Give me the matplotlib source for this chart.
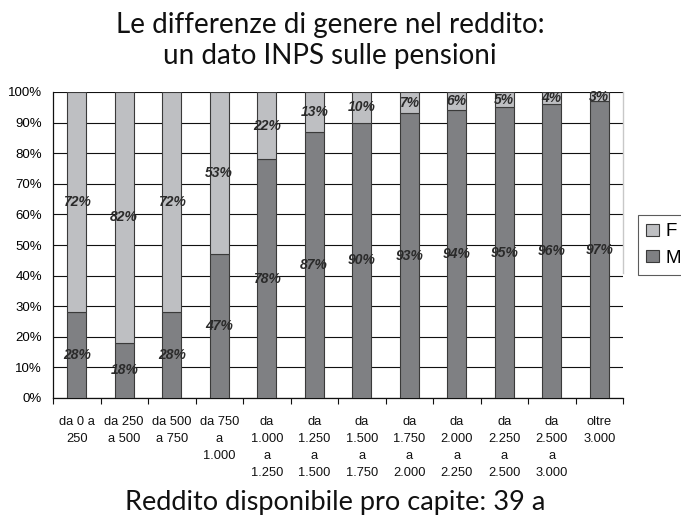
import matplotlib
matplotlib.use("Agg")
import matplotlib.pyplot as plt
from matplotlib.patches import Patch

# Income bands (monthly pension, euro)
categories = [
    "da 0 a\n250", "da 250\na 500", "da 500\na 750", "da 750\na\n1.000",
    "da\n1.000\na\n1.250", "da\n1.250\na\n1.500", "da\n1.500\na\n1.750",
    "da\n1.750\na\n2.000", "da\n2.000\na\n2.250", "da\n2.250\na\n2.500",
    "da\n2.500\na\n3.000", "oltre\n3.000",
]
male_pct = [28, 18, 28, 47, 78, 87, 90, 93, 94, 95, 96, 97]
female_pct = [72, 82, 72, 53, 22, 13, 10, 7, 6, 5, 4, 3]
y_ticks = [0, 10, 20, 30, 40, 50, 60, 70, 80, 90, 100]

col_f = "#bebfc2"
col_m = "#7f8083"
edge = "#3a3a3a"

fig = plt.figure(figsize=(6.81, 5.17), dpi=100)
ax = fig.add_axes([53 / 681, 1 - 398 / 517, 570 / 681, 306 / 517])

x = list(range(len(categories)))
w = 0.4
ax.bar(x, male_pct, width=w, color=col_m, edgecolor=edge, linewidth=0.8, zorder=3)
ax.bar(x, female_pct, width=w, bottom=male_pct, color=col_f, edgecolor=edge,
       linewidth=0.8, zorder=3)

lab_kw = dict(ha="center", va="center", fontsize=10, fontweight="bold",
              fontstyle="italic", color="#2a2a2a", family="Liberation Sans", zorder=4)
for xi, m, f in zip(x, male_pct, female_pct):
    ax.text(xi, m / 2, f"{m}%", **lab_kw)
    ax.text(xi, m + f / 2, f"{f}%", **lab_kw)

ax.set_xlim(-0.5, len(categories) - 0.5)
ax.set_ylim(0, 100)
ax.set_yticks(y_ticks)
ax.set_yticklabels([f"{v}%" for v in y_ticks], family="Liberation Sans", fontsize=9.5)
ax.yaxis.grid(True, color="#111111", linewidth=0.8, zorder=0)
ax.tick_params(axis="y", length=0, pad=8)

# category boundaries carry the tick marks; labels sit in the middle
ax.set_xticks([i - 0.5 for i in range(len(categories) + 1)])
ax.set_xticklabels([])
ax.tick_params(axis="x", direction="out", length=4, width=0.8, color="#111111")
for xi, lab in zip(x, categories):
    ax.text(xi, -5.8, lab, ha="center", va="top", fontsize=9.3,
            family="Liberation Sans", linespacing=1.55, color="#111111")

for s in ("left", "bottom"):
    ax.spines[s].set_color("#111111")
    ax.spines[s].set_linewidth(0.9)
ax.spines["top"].set_visible(False)
ax.spines["right"].set_color("#c8c8c8")
ax.spines["right"].set_linewidth(1.0)
ax.spines["right"].set_bounds(41, 100)

handles = [Patch(facecolor=col_f, edgecolor=edge, linewidth=0.8, label="F"),
           Patch(facecolor=col_m, edgecolor=edge, linewidth=0.8, label="M")]
leg = fig.legend(handles=handles, loc="upper left", bbox_to_anchor=(638 / 681, 1 - 215 / 517),
                 frameon=True, fancybox=False, edgecolor="#333333",
                 prop={"family": "Liberation Sans", "size": 13.5},
                 handlelength=0.65, handleheight=0.65, handletextpad=0.35,
                 borderpad=0.45, labelspacing=0.5, borderaxespad=0)
leg.get_frame().set_linewidth(0.8)

fig.text(0.485, 1 - 12 / 517, "Le differenze di genere nel reddito:\nun dato INPS sulle pensioni",
         ha="center", va="top", fontsize=20, family="Lato", linespacing=1.22, color="#111111")
fig.text(0.492, 1 - 490 / 517, "Reddito disponibile pro capite: 39 a",
         ha="center", va="top", fontsize=19.5, family="Lato", color="#111111")

fig.savefig("out.png", dpi=100)
